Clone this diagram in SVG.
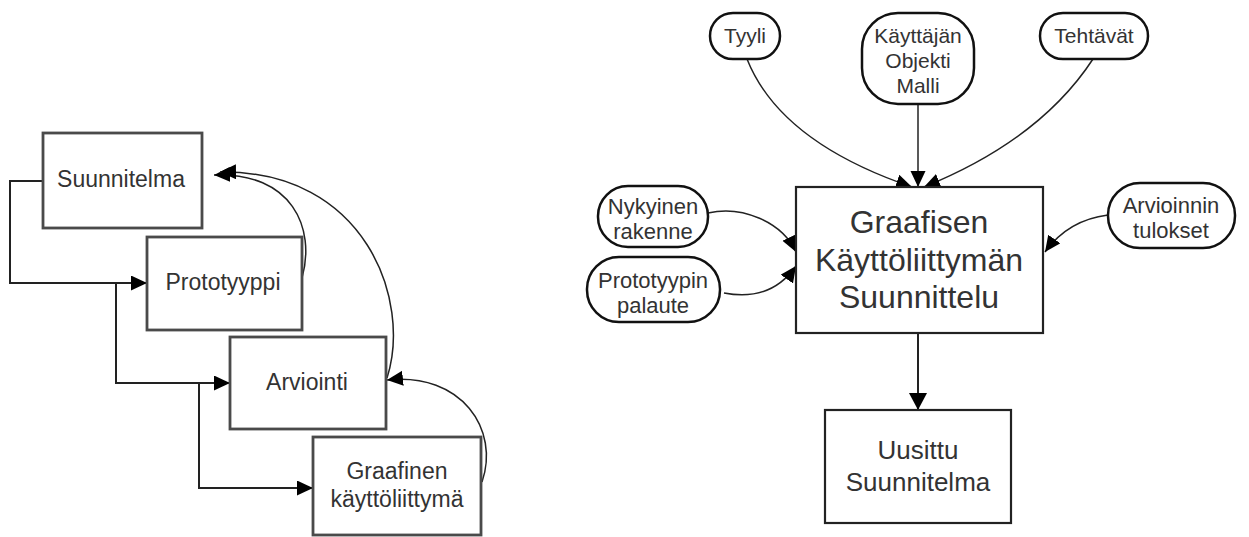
<svg xmlns="http://www.w3.org/2000/svg" width="1249" height="537" viewBox="0 0 1249 537">
  <style>
    .box { fill: #fff; stroke: #4a4a4a; stroke-width: 2.8; }
    .rbox { fill: #fff; stroke: #222; stroke-width: 2.2; }
    .pill { fill: #fff; stroke: #111; stroke-width: 2.5; }
    .wire { fill: none; stroke: #222; stroke-width: 2; }
    .curve { fill: none; stroke: #222; stroke-width: 1.5; }
    text { font-family: "Liberation Sans", Arial, sans-serif; fill: #333; text-anchor: middle; }
    .t23 { font-size: 23px; }
    .t21 { font-size: 21px; }
    .t22 { font-size: 22px; }
    .t32 { font-size: 32px; }
    .t26 { font-size: 26px; }
  </style>
  <defs>
    <marker id="arrow" markerUnits="userSpaceOnUse" markerWidth="18" markerHeight="18" refX="16" refY="7.5" orient="auto">
      <path d="M0,0 L16,7.5 L0,15 z" fill="#000"/>
    </marker>
    <marker id="arrowBig" markerUnits="userSpaceOnUse" markerWidth="20" markerHeight="20" refX="17" refY="9" orient="auto">
      <path d="M0,0 L17,9 L0,18 z" fill="#000"/>
    </marker>
  </defs>

  <rect width="1249" height="537" fill="#fff"/>

  <!-- Connectors -->
  <g id="connectors">
    <!-- iterative cycle, left -->
    <path class="wire" d="M43,181 H10 V283 H147" marker-end="url(#arrow)"/>
    <path class="wire" d="M116,283 V383 H230" marker-end="url(#arrow)"/>
    <path class="wire" d="M199,383 V488 H313" marker-end="url(#arrow)"/>
    <path class="curve" d="M302,278 C316,228 292,172 214,175" marker-end="url(#arrow)"/>
    <path class="curve" d="M387,378 C412,300 365,170 220,172" marker-end="url(#arrow)"/>
    <path class="curve" d="M482,482 C500,430 462,372 387,380" marker-end="url(#arrow)"/>

    <!-- inputs to the design process, right -->
    <path class="curve" d="M747,59 Q780,142 912,187" marker-end="url(#arrow)"/>
    <path class="curve" d="M918,104 V187" marker-end="url(#arrow)"/>
    <path class="curve" d="M1093,59 Q1040,140 924,187" marker-end="url(#arrow)"/>
    <path class="curve" d="M708,213 C742,205 782,222 796,252" marker-end="url(#arrow)"/>
    <path class="curve" d="M724,293 C760,300 782,286 796,266" marker-end="url(#arrow)"/>
    <path class="curve" d="M1108,215 Q1068,220 1045,252" marker-end="url(#arrow)"/>
    <path class="wire" d="M918,333 V410" stroke-width="3" marker-end="url(#arrowBig)"/>
  </g>

  <!-- Left: iterative cycle -->
  <g id="suunnitelma">
    <rect class="box" x="43" y="133" width="159" height="95"/>
    <text class="t23" x="121" y="187">Suunnitelma</text>
  </g>
  <g id="prototyyppi">
    <rect class="box" x="147" y="237" width="155" height="93"/>
    <text class="t23" x="223" y="290">Prototyyppi</text>
  </g>
  <g id="arviointi">
    <rect class="box" x="230" y="337" width="156" height="92"/>
    <text class="t23" x="307" y="390">Arviointi</text>
  </g>
  <g id="graafinen">
    <rect class="box" x="313" y="437" width="168" height="98"/>
    <text class="t23" x="397" y="479">Graafinen</text>
    <text class="t23" x="397" y="507">käyttöliittymä</text>
  </g>

  <!-- Right: design inputs and output -->
  <g id="tyyli">
    <rect class="pill" x="710" y="13" width="70" height="46" rx="23"/>
    <text class="t21" x="745" y="43">Tyyli</text>
  </g>
  <g id="kayttajan-malli">
    <rect class="pill" x="862" y="13" width="112" height="91" rx="36"/>
    <text class="t21" x="918" y="43">Käyttäjän</text>
    <text class="t21" x="918" y="68">Objekti</text>
    <text class="t21" x="918" y="93">Malli</text>
  </g>
  <g id="tehtavat">
    <rect class="pill" x="1040" y="13" width="108" height="46" rx="23"/>
    <text class="t21" x="1094" y="43">Tehtävät</text>
  </g>
  <g id="nykyinen">
    <rect class="pill" x="598" y="186" width="110" height="61" rx="30"/>
    <text class="t22" x="653" y="214">Nykyinen</text>
    <text class="t22" x="653" y="239">rakenne</text>
  </g>
  <g id="prototyypin-palaute">
    <rect class="pill" x="587" y="257" width="133" height="65" rx="32"/>
    <text class="t22" x="653" y="288">Prototyypin</text>
    <text class="t22" x="653" y="313">palaute</text>
  </g>
  <g id="arvioinnin-tulokset">
    <rect class="pill" x="1108" y="183" width="127" height="65" rx="32"/>
    <text class="t22" x="1171" y="213">Arvioinnin</text>
    <text class="t22" x="1171" y="238">tulokset</text>
  </g>
  <g id="suunnittelu">
    <rect class="rbox" x="796" y="187" width="247" height="146"/>
    <text class="t32" x="919" y="233">Graafisen</text>
    <text class="t32" x="919" y="271">Käyttöliittymän</text>
    <text class="t32" x="919" y="308">Suunnittelu</text>
  </g>
  <g id="uusittu">
    <rect class="rbox" x="825" y="410" width="186" height="113"/>
    <text class="t26" x="918" y="459">Uusittu</text>
    <text class="t26" x="918" y="491">Suunnitelma</text>
  </g>
</svg>
